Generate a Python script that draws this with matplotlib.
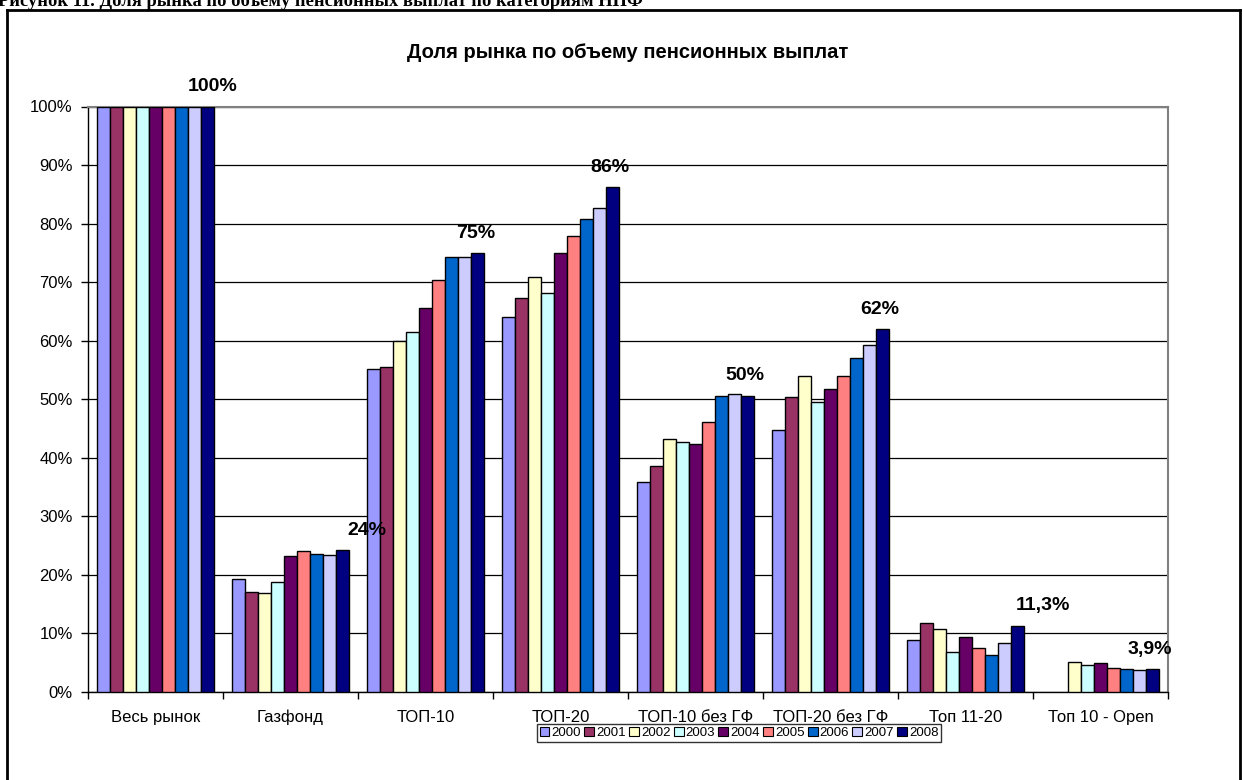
import matplotlib
matplotlib.use('Agg')
import matplotlib.pyplot as plt
from matplotlib.patches import Patch
from matplotlib.lines import Line2D
import numpy as np

plt.rcParams['font.family'] = ['Liberation Sans', 'DejaVu Sans']

years = ['2000', '2001', '2002', '2003', '2004', '2005', '2006', '2007', '2008']
categories = ['Весь рынок', 'Газфонд', 'ТОП-10', 'ТОП-20', 'ТОП-10 без ГФ',
              'ТОП-20 без ГФ', 'Топ 11-20', 'Топ 10 - Open']

# доля, % (по годам 2000..2008)
ves_rynok = [100, 100, 100, 100, 100, 100, 100, 100, 100]
gazfond = [19.3, 17.0, 16.8, 18.7, 23.2, 24.0, 23.6, 23.3, 24.2]
top10 = [55.2, 55.5, 59.9, 61.5, 65.5, 70.3, 74.3, 74.3, 74.9]
top20 = [64.0, 67.3, 70.8, 68.2, 74.9, 77.9, 80.7, 82.6, 86.2]
top10_bez_gf = [35.8, 38.5, 43.1, 42.7, 42.3, 46.1, 50.6, 50.8, 50.6]
top20_bez_gf = [44.7, 50.3, 53.9, 49.5, 51.7, 53.9, 57.1, 59.2, 61.9]
top11_20 = [8.9, 11.8, 10.7, 6.7, 9.4, 7.5, 6.3, 8.3, 11.3]
top10_open = [np.nan, np.nan, 5.0, 4.5, 4.9, 4.0, 3.8, 3.7, 3.9]

groups = [ves_rynok, gazfond, top10, top20, top10_bez_gf, top20_bez_gf, top11_20, top10_open]
last_labels = ['100%', '24%', '75%', '86%', '50%', '62%', '11,3%', '3,9%']
label_dx = [0.04, 0.18, -0.01, -0.02, -0.02, -0.02, 0.19, -0.02]

colors = ['#9999FF', '#993366', '#FFFFCC', '#CCFFFF', '#660066',
          '#FF8080', '#0066CC', '#CCCCFF', '#000080']

W, H = 1243, 780
fig = plt.figure(figsize=(W / 100, H / 100), dpi=100)

# outer frame (bottom edge is outside of the picture)
fig.add_artist(Line2D([7 / W, 7 / W], [0, 1 - 10 / H], color='black', lw=2))
fig.add_artist(Line2D([7 / W, 1240 / W], [1 - 10 / H, 1 - 10 / H], color='black', lw=2))
fig.add_artist(Line2D([1240 / W, 1240 / W], [0, 1 - 10 / H], color='black', lw=2))

# caption of the document, cut at the top
fig.text(-2 / W, 1 - 6 / H, 'Рисунок 11. Доля рынка по объему пенсионных выплат по категориям НПФ',
         family=['Liberation Serif', 'DejaVu Serif'], fontweight='bold', fontsize=13.3,
         ha='left', va='baseline')

left, right, top, bottom = 88, 1168, 106.5, 691.7
ax = fig.add_axes([left / W, 1 - bottom / H, (right - left) / W, (bottom - top) / H])

n = len(years)
bw = 0.0963
data = np.array(groups)
for j in range(n):
    x = np.arange(len(categories)) + 0.5 + (j - (n - 1) / 2) * bw
    ax.bar(x, data[:, j], width=bw, color=colors[j], edgecolor='black', linewidth=1.0,
           label=years[j], zorder=3)

for i, lab in enumerate(last_labels):
    xb = i + 0.5 + (n - 1) / 2 * bw
    ax.annotate(lab, (xb + label_dx[i], data[i, -1]), xytext=(0, 8), textcoords='offset points',
                ha='center', va='bottom', fontsize=14, fontweight='bold', annotation_clip=False)

ax.set_xlim(0, len(categories))
ax.set_ylim(0, 100)
ax.set_yticks(np.arange(0, 101, 10))
ax.set_yticklabels([f'{v}%' for v in range(0, 101, 10)], fontsize=12)
ax.yaxis.grid(True, color='black', linewidth=0.9, zorder=0)
ax.set_axisbelow(True)

ax.set_xticks(np.arange(0, len(categories) + 1))
ax.set_xticklabels([])
ax.set_xticks(np.arange(len(categories)) + 0.5, minor=True)
ax.set_xticklabels(categories, minor=True, fontsize=12)
ax.tick_params(axis='x', which='minor', length=0, pad=13)
ax.tick_params(axis='x', which='major', length=5, direction='out', width=1)
ax.tick_params(axis='y', length=5, direction='out', width=1, pad=6)

for s in ['left', 'bottom']:
    ax.spines[s].set_color('black')
    ax.spines[s].set_linewidth(1)
for s in ['top', 'right']:
    ax.spines[s].set_color('#808080')
    ax.spines[s].set_linewidth(1.5)

fig.text(628 / W, 1 - 52 / H, 'Доля рынка по объему пенсионных выплат',
         fontsize=14.5, fontweight='bold', ha='center', va='center')

handles = [Patch(facecolor=c, edgecolor='black', linewidth=0.8) for c in colors]
leg = fig.legend(handles, years, loc='center', bbox_to_anchor=(739 / W, 1 - 733 / H),
                 ncol=9, fontsize=9.5, frameon=True, fancybox=False, edgecolor='black',
                 handlelength=0.75, handleheight=0.75, handletextpad=0.15,
                 columnspacing=0.25, borderpad=0.2, borderaxespad=0)
leg.get_frame().set_linewidth(1)

fig.savefig('out.png', dpi=100)
